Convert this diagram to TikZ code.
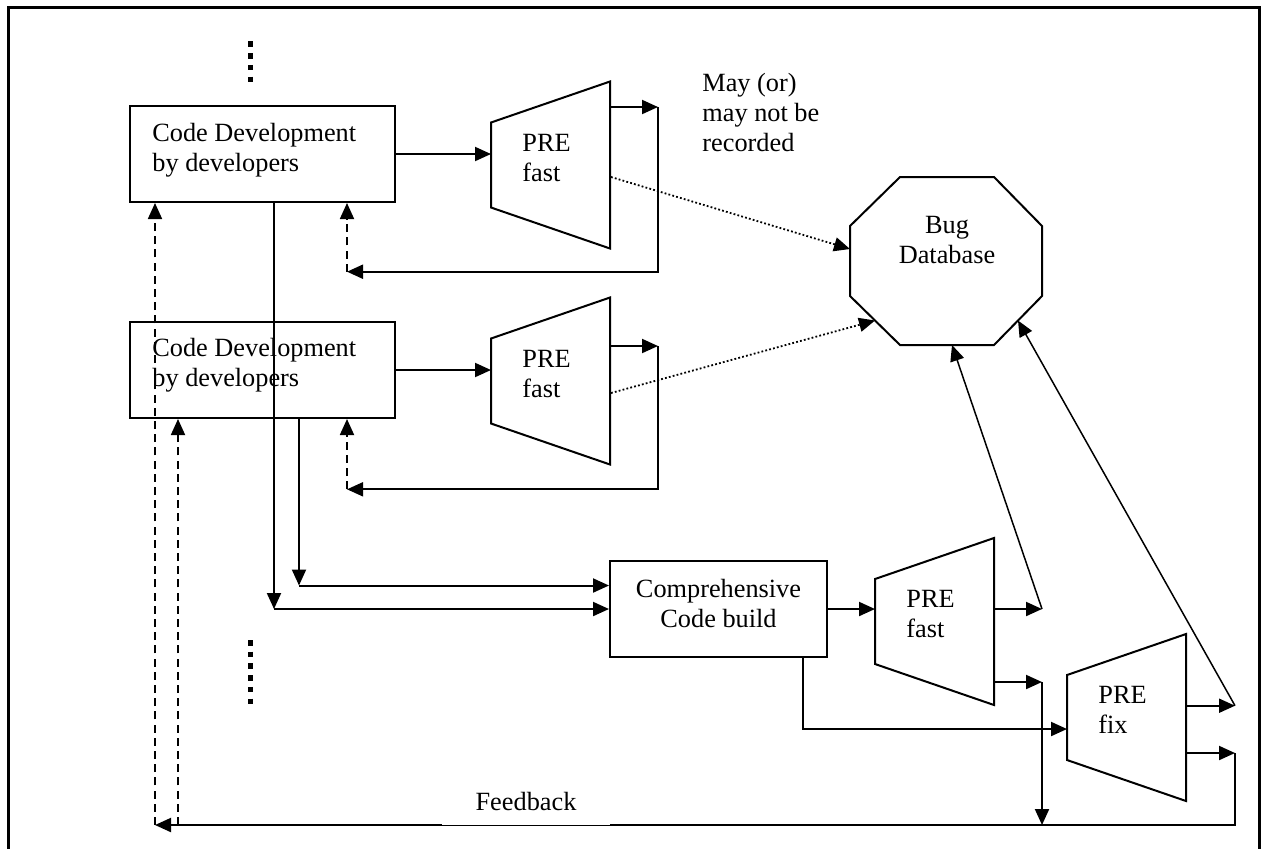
\documentclass[tikz,border=0pt]{standalone}
\usepackage{fontspec}
\setmainfont{Liberation Serif}
\usetikzlibrary{arrows.meta,calc}
\newcommand\pretrap[3]{\draw[ln] (#2,#3-42.5) coordinate (#1lt) -- (#2+119,#3-83.5) coordinate (#1rt) -- (#2+119,#3+83.5) coordinate (#1rb) -- (#2,#3+42.5) coordinate (#1lb) -- cycle;}
\begin{document}
\begin{tikzpicture}[x=0.5pt,y=-0.5pt,
  txt/.style={font=\fontsize{13.15pt}{15pt}\selectfont, inner sep=0pt},
  ln/.style={line width=1pt},
  tip/.style={-{Triangle[length=8pt,width=7pt]}},
  arr/.style={ln,tip},
  darr/.style={line width=0.9pt,dash pattern=on 4pt off 2.6pt,tip},
  dotarr/.style={line width=0.9pt,dash pattern=on 0.9pt off 1.1pt,tip},
  thinarr/.style={line width=0.75pt,tip},
  devbox/.style={draw,line width=1pt,minimum width=132.5pt,minimum height=48pt,inner sep=0pt},
  compbox/.style={draw,line width=1pt,minimum width=108.5pt,minimum height=48pt,inner sep=0pt},
  bigdots/.style={line width=2.8pt,dash pattern=on 2.75pt off 3.1pt},
]
\useasboundingbox (0,0) rectangle (1261,848);
% frame
\draw[line width=1.6pt] (8.8,852) -- (8.8,7.3) -- (1259.3,7.3) -- (1259.3,852);
% ellipsis dots
\draw[bigdots] (250.5,41.4) -- (250.5,82.5);
\draw[bigdots] (250.5,640) -- (250.5,705);
% boxes
\node[devbox] (dev1) at (262.5,154) {};
\node[devbox] (dev2) at (262.5,370) {};
\node[txt,align=left,anchor=west] (dev1t) at (152,150) {Code Development\\by developers};
\node[txt,align=left,anchor=west] (dev2t) at (152,365) {Code Development\\by developers};
\node[compbox] (comp) at (718.5,609) {};
\node[txt,align=center] (compt) at (718.5,603) {Comprehensive\\Code build};
% trapezoids
\pretrap{ta}{491}{165}
\pretrap{tb}{491}{381}
\pretrap{tc}{875}{621.5}
\pretrap{td}{1067}{717.5}
\node[txt,align=left,anchor=west] (tat) at (522,158) {PRE\\fast};
\node[txt,align=left,anchor=west] (tbt) at (522,374.5) {PRE\\fast};
\node[txt,align=left,anchor=west] (tct) at (906,614.3) {PRE\\fast};
\node[txt,align=left,anchor=west] (tdt) at (1098,710) {PRE\\fix};
% octagon
\draw[ln] (900,177) coordinate (o1) -- (994,177) coordinate (o2) -- (1042,226) coordinate (o3) -- (1042,296) coordinate (o4) -- (994,345) coordinate (o5) -- (900,345) coordinate (o6) -- (850,296) coordinate (o7) -- (850,226) coordinate (o8) -- cycle;
\node[txt,align=center] (bug) at (947,240) {Bug\\Database};
\node[txt,align=left,anchor=west] (note) at (702,112.5) {May (or)\\may not be\\recorded};
% box -> trapezoid
\draw[arr] (dev1.east) -- (dev1.east -| talt);
\draw[arr] (dev2.east) -- (dev2.east -| tblt);
% trap 1 loop
\coordinate (ao) at (610,107); \coordinate (aj) at (658,107);
\coordinate (ar) at (658,271.7); \coordinate (ad) at (347,271.7);
\draw[arr] (ao) -- (aj);
\draw[arr] (aj) -- (ar) -- (ad);
\draw[darr] (ad) -- (ad |- dev1.south);
% trap 2 loop
\coordinate (bo) at (610,346); \coordinate (bj) at (658,346);
\coordinate (br) at (658,489.3); \coordinate (bd) at (347,489.3);
\draw[arr] (bo) -- (bj);
\draw[arr] (bj) -- (br) -- (bd);
\draw[darr] (bd) -- (bd |- dev2.south);
% dotted to bug db
\coordinate (ads) at (611,177); \coordinate (oin1) at (850,249);
\draw[dotarr] (ads) -- (oin1);
\coordinate (bds) at (611,393);
\draw[dotarr] (bds) -- ($(o6)!0.5!(o7)$);
% dev boxes down to comprehensive build
\coordinate (d1s) at (274,202);
\draw[arr] (d1s) -- (d1s |- comp.west);
\draw[arr] (d1s |- comp.west) -- (comp.west);
\coordinate (d2s) at (299,418); \coordinate (d2c) at (299,585.5);
\draw[arr] (d2s) -- (d2c);
\draw[arr] (d2c) -- (d2c -| comp.west);
% comp -> trap 3
\draw[arr] (comp.east) -- (comp.east -| tclt);
% trap 3 outputs
\coordinate (co1) at (994,609); \coordinate (cj1) at (1042,609);
\coordinate (co2) at (994,682); \coordinate (cj2) at (1042,682);
\coordinate (ob) at (952,345);
\draw[arr] (co1) -- (cj1);
\draw[thinarr] (cj1) -- (ob);
\draw[arr] (co2) -- (cj2);
% comp bottom -> trap 4
\coordinate (cb) at (803,657); \coordinate (cbk) at (803,729);
\draw[arr] (cb) -- (cbk) -- (cbk -| tdlt);
% trap 4 outputs
\coordinate (do1) at (1186,705.7); \coordinate (dj1) at (1235,705.7);
\coordinate (do2) at (1186,753); \coordinate (dj2) at (1235,753);
\draw[arr] (do1) -- (dj1);
\draw[thinarr] (dj1) -- ($(o4)!0.5!(o5)$);
\draw[arr] (do2) -- (dj2);
% feedback
\coordinate (fbr) at (1235,825); \coordinate (fbl) at (155,825);
\coordinate (fb2) at (178,825);
\draw[arr] (dj2) -- (fbr) -- (fbl);
\draw[arr] (cj2) -- (cj2 |- fbr);
\node[txt,fill=white,minimum width=84pt,inner ysep=7pt,anchor=south] (fbt) at (526,825) {Feedback};
\draw[darr] (fbl) -- (fbl |- dev1.south);
\draw[darr] (fb2) -- (fb2 |- dev2.south);
\end{tikzpicture}
\end{document}
